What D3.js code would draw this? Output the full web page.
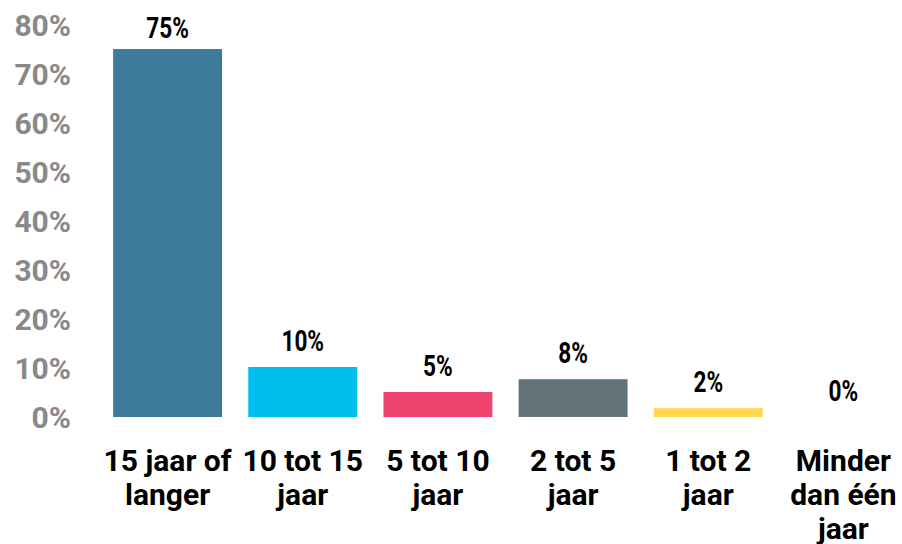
<!DOCTYPE html>
<html><head><meta charset="utf-8">
<script src="https://cdn.jsdelivr.net/npm/d3@7"></script>
<style>body{margin:0;background:#fff}svg{display:block}</style>
</head><body>
<svg id="chart" width="902" height="544"></svg>
<script>
const categories = ["15 jaar of langer","10 tot 15 jaar","5 tot 10 jaar","2 tot 5 jaar","1 tot 2 jaar","Minder dan één jaar"];
const values = [75, 10.2, 5.1, 7.7, 1.8, 0];
const colors = ["#3e7b9b","#00bfee","#ee436e","#62747a","#ffd64f","#cccccc"];
const yTicks = [0,10,20,30,40,50,60,70,80];

const svg = d3.select("#chart");
const x = d3.scaleBand().domain(categories).range([100, 911]).paddingInner(0.194).paddingOuter(0.097);
const y = d3.scaleLinear().domain([0, 80]).range([417, 24.5]);

const yAxis = d3.axisLeft(y).tickValues(yTicks).tickFormat(d => d + "%").tickSize(0).tickPadding(0);
const ga = svg.append("g").attr("transform","translate(71,0)").call(yAxis);
ga.select(".domain").remove();
ga.selectAll("text").attr("fill","#898989").style("font-family","Roboto").style("font-weight","bold").style("font-size","30px").attr("dy","0.36em");

svg.selectAll("rect.bar").data(values).join("rect").attr("class","bar")
  .attr("x",(d,i)=>x(categories[i])).attr("width",x.bandwidth())
  .attr("y",d=>y(d)).attr("height",d=>y(0)-y(d))
  .attr("fill",(d,i)=>colors[i]);

svg.selectAll("text.val").data(values).join("text").attr("class","val")
  .attr("transform",(d,i)=>`translate(${x(categories[i])+x.bandwidth()/2},${Math.max(y(d)-16, 38)}) scale(0.78,1)`)
  .attr("text-anchor","middle")
  .style("font-family","Roboto").style("font-weight","bold").style("font-size","29px")
  .attr("fill","#000")
  .text(d=>d3.format(".0f")(d)+"%");

function wrap(str, width, measure){
  const words = str.split(" "); const lines=[]; let cur="";
  words.forEach(w=>{const t=cur?cur+" "+w:w; if(measure(t)>width && cur){lines.push(cur);cur=w;} else cur=t;});
  if(cur) lines.push(cur); return lines;
}
const meas = svg.append("text").style("font-family","Roboto").style("font-weight","bold").style("font-size","30px");
const measure = s => { meas.text(s); return meas.node().getComputedTextLength(); };
categories.forEach(c=>{
  const lines = wrap(c, x.step(), measure);
  const cx = x(c)+x.bandwidth()/2;
  const t = svg.append("text").attr("text-anchor","middle")
    .attr("x", cx).attr("y", 471)
    .style("font-family","Roboto").style("font-weight","bold").style("font-size","30px").attr("fill","#000");
  lines.forEach((l,j)=>t.append("tspan").attr("x", cx).attr("y", 471+j*34).text(l));
});
meas.remove();
</script>
</body></html>
